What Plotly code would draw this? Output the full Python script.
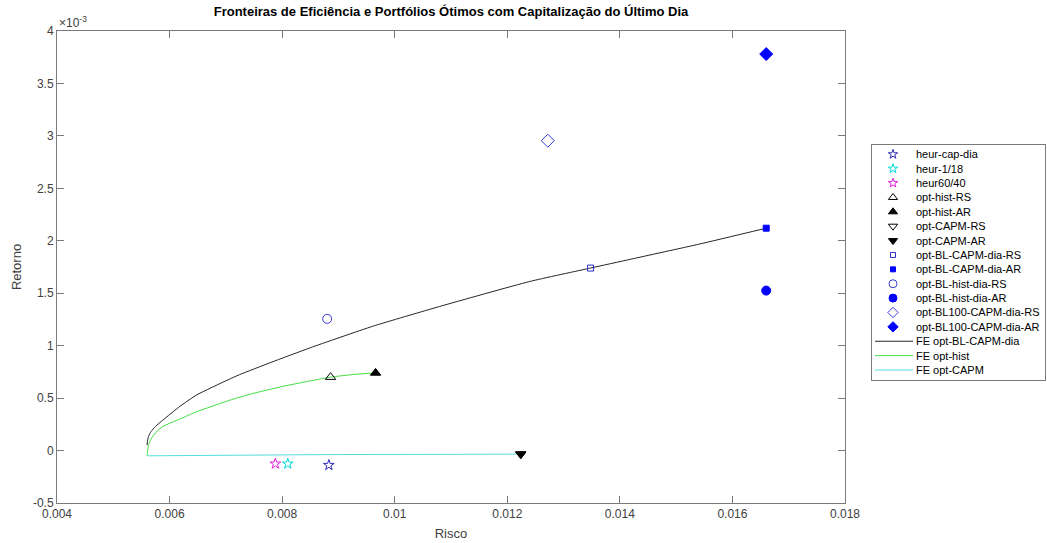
import plotly.graph_objects as go

# ---- data: risk (std) and return of each portfolio ----
risco_heur_cap_dia = [0.00883]
retorno_heur_cap_dia = [-0.139e-3]
risco_heur_1_18 = [0.00810]
retorno_heur_1_18 = [-0.126e-3]
risco_heur_60_40 = [0.00788]
retorno_heur_60_40 = [-0.126e-3]

risco_opt_hist_rs = [0.00886]
retorno_opt_hist_rs = [0.700e-3]
risco_opt_hist_ar = [0.00966]
retorno_opt_hist_ar = [0.740e-3]
risco_opt_capm_rs = [0.01224]
retorno_opt_capm_rs = [-0.034e-3]
risco_opt_capm_ar = [0.01224]
retorno_opt_capm_ar = [-0.034e-3]

risco_bl_capm_rs = [0.01348]
retorno_bl_capm_rs = [1.740e-3]
risco_bl_capm_ar = [0.01660]
retorno_bl_capm_ar = [2.120e-3]
risco_bl_hist_rs = [0.00880]
retorno_bl_hist_rs = [1.256e-3]
risco_bl_hist_ar = [0.01660]
retorno_bl_hist_ar = [1.525e-3]
risco_bl100_rs = [0.01272]
retorno_bl100_rs = [2.954e-3]
risco_bl100_ar = [0.01660]
retorno_bl100_ar = [3.780e-3]

# ---- efficient frontiers ----
fe_bl_risco = [0.00560, 0.00561, 0.00563, 0.00567, 0.00575, 0.00588, 0.00618, 0.00648,
               0.00704, 0.00724, 0.00780, 0.00850, 0.00961, 0.01080, 0.01240, 0.01348,
               0.01420, 0.01540, 0.01660]
fe_bl_retorno = [0.05e-3, 0.10e-3, 0.14e-3, 0.18e-3, 0.23e-3, 0.29e-3, 0.42e-3, 0.53e-3,
                 0.675e-3, 0.723e-3, 0.84e-3, 0.98e-3, 1.185e-3, 1.374e-3, 1.612e-3, 1.740e-3,
                 1.825e-3, 1.967e-3, 2.120e-3]

fe_hist_risco = [0.00560, 0.00561, 0.00563, 0.00567, 0.00575, 0.00588, 0.00618, 0.00648,
                 0.00707, 0.00741, 0.00804, 0.00886, 0.00930, 0.00966]
fe_hist_retorno = [-0.05e-3, 0.00e-3, 0.06e-3, 0.11e-3, 0.17e-3, 0.23e-3, 0.30e-3, 0.37e-3,
                   0.48e-3, 0.535e-3, 0.615e-3, 0.700e-3, 0.727e-3, 0.740e-3]

fe_capm_risco = [0.00560, 0.00700, 0.00900, 0.01100, 0.01224]
fe_capm_retorno = [-0.050e-3, -0.044e-3, -0.038e-3, -0.036e-3, -0.034e-3]

x_ticks = [0.004, 0.006, 0.008, 0.010, 0.012, 0.014, 0.016, 0.018]
x_ticklabels = ["0.004", "0.006", "0.008", "0.01", "0.012", "0.014", "0.016", "0.018"]
y_ticks = [-0.5e-3, 0, 0.5e-3, 1e-3, 1.5e-3, 2e-3, 2.5e-3, 3e-3, 3.5e-3, 4e-3]
y_ticklabels = ["-0.5", "0", "0.5", "1", "1.5", "2", "2.5", "3", "3.5", "4"]

BLUE = "#0000ff"
FONT = "Liberation Sans, Arial, sans-serif"
AXIS_GRAY = "#7a7a7a"
TEXT_GRAY = "#404040"
BLACK_LINE = "#262626"
GREEN_LINE = "#44dd44"
CYAN_LINE = "#55dede"

fig = go.Figure()

# frontiers
fig.add_trace(go.Scatter(x=fe_bl_risco, y=fe_bl_retorno, mode="lines",
                         line=dict(color=BLACK_LINE, width=1, shape="spline", smoothing=0.5)))
fig.add_trace(go.Scatter(x=fe_hist_risco, y=fe_hist_retorno, mode="lines",
                         line=dict(color=GREEN_LINE, width=1, shape="spline", smoothing=0.5)))
fig.add_trace(go.Scatter(x=fe_capm_risco, y=fe_capm_retorno, mode="lines",
                         line=dict(color=CYAN_LINE, width=1)))

# (label, x, y, symbol, color, size) for each portfolio marker
pontos = [
    ("heur-cap-dia", risco_heur_cap_dia, retorno_heur_cap_dia, "star-open", "#2a2ab8", 8),
    ("heur-1/18", risco_heur_1_18, retorno_heur_1_18, "star-open", "#00d8d8", 8),
    ("heur60/40", risco_heur_60_40, retorno_heur_60_40, "star-open", "#e020e0", 8),
    ("opt-hist-RS", risco_opt_hist_rs, retorno_opt_hist_rs, "triangle-up-open", "#000000", 9),
    ("opt-hist-AR", risco_opt_hist_ar, retorno_opt_hist_ar, "triangle-up", "#000000", 9),
    ("opt-CAPM-RS", risco_opt_capm_rs, retorno_opt_capm_rs, "triangle-down-open", "#000000", 9),
    ("opt-CAPM-AR", risco_opt_capm_ar, retorno_opt_capm_ar, "triangle-down", "#000000", 9),
    ("opt-BL-CAPM-dia-RS", risco_bl_capm_rs, retorno_bl_capm_rs, "square-open", "#2a2ad0", 6),
    ("opt-BL-CAPM-dia-AR", risco_bl_capm_ar, retorno_bl_capm_ar, "square", BLUE, 6),
    ("opt-BL-hist-dia-RS", risco_bl_hist_rs, retorno_bl_hist_rs, "circle-open", "#3a3ad8", 9),
    ("opt-BL-hist-dia-AR", risco_bl_hist_ar, retorno_bl_hist_ar, "circle", BLUE, 9),
    ("opt-BL100-CAPM-dia-RS", risco_bl100_rs, retorno_bl100_rs, "diamond-open", "#3a3ad8", 10),
    ("opt-BL100-CAPM-dia-AR", risco_bl100_ar, retorno_bl100_ar, "diamond", BLUE, 10),
]

for nome, xs, ys, sym, cor, tam in pontos:
    fig.add_trace(go.Scatter(x=xs, y=ys, mode="markers", name=nome,
                             marker=dict(symbol=sym, color=cor, size=tam,
                                         line=dict(color=cor, width=1))))

# ---- legend panel drawn on its own small axes (pixel-like units) ----
LEG_L, LEG_R, LEG_T, LEG_B = 872, 1045, 145, 380
linhas = [
    ("FE opt-BL-CAPM-dia", BLACK_LINE),
    ("FE opt-hist", GREEN_LINE),
    ("FE opt-CAPM", CYAN_LINE),
]
passo = 14.38
y0 = 9.3
TXT_X = 42
anots = []
for i, (nome, xs, ys, sym, cor, tam) in enumerate(pontos):
    yy = y0 + i * passo
    fig.add_trace(go.Scatter(x=[21], y=[yy], mode="markers", xaxis="x2", yaxis="y2",
                             marker=dict(symbol=sym, color=cor, size=round(tam * 0.85),
                                         line=dict(color=cor, width=1))))
    anots.append(dict(x=TXT_X, y=yy, xref="x2", yref="y2", text=nome, showarrow=False,
                      xanchor="left", yanchor="middle",
                      font=dict(family=FONT, size=11, color="#000000")))
for j, (nome, cor) in enumerate(linhas):
    yy = y0 + (len(pontos) + j) * passo
    fig.add_trace(go.Scatter(x=[3, 41], y=[yy, yy], mode="lines", xaxis="x2", yaxis="y2",
                             line=dict(color=cor, width=1)))
    anots.append(dict(x=TXT_X, y=yy, xref="x2", yref="y2", text=nome, showarrow=False,
                      xanchor="left", yanchor="middle",
                      font=dict(family=FONT, size=11, color="#000000")))

# exponent label of the y axis
anots.append(dict(x=0, y=1, xref="paper", yref="paper", xanchor="left", yanchor="bottom",
                  text="\u00d710<sup>-3</sup>", showarrow=False, yshift=-1,
                  font=dict(family=FONT, size=12, color=TEXT_GRAY)))

PLOT_W = 1047 - 57 - 2
main_right = (845 - 57) / PLOT_W

fig.update_layout(
    width=1047, height=543,
    margin=dict(l=57, r=2, t=31, b=40, autoexpand=False),
    paper_bgcolor="white", plot_bgcolor="white",
    showlegend=False,
    font=dict(family=FONT, size=12, color=TEXT_GRAY),
    title=dict(text="<b>Fronteiras de Eficiência e Portfólios Ótimos com Capitalização do Último Dia</b>",
               x=(57 + 845) / 2 / 1047, xanchor="center", y=1 - 11 / 543, yanchor="middle",
               font=dict(family=FONT, size=13, color="#000000")),
    xaxis=dict(domain=[0, main_right], range=[0.004, 0.018], automargin=False,
               tickvals=x_ticks, ticktext=x_ticklabels,
               ticks="inside", ticklen=7, tickcolor=AXIS_GRAY, tickwidth=1,
               showline=True, linecolor=AXIS_GRAY, linewidth=1, mirror="ticks",
               showgrid=False, zeroline=False,
               title=dict(text="Risco", standoff=8, font=dict(size=13, color=TEXT_GRAY))),
    yaxis=dict(domain=[0, 1], range=[-0.5e-3, 4e-3], automargin=False,
               tickvals=y_ticks, ticktext=y_ticklabels,
               ticks="inside", ticklen=7, tickcolor=AXIS_GRAY, tickwidth=1,
               showline=True, linecolor=AXIS_GRAY, linewidth=1, mirror="ticks",
               showgrid=False, zeroline=False,
               title=dict(text="Retorno", standoff=8, font=dict(size=13, color=TEXT_GRAY))),
    xaxis2=dict(domain=[(LEG_L - 57) / PLOT_W, (LEG_R - 57) / PLOT_W], range=[0, LEG_R - LEG_L],
                anchor="y2", automargin=False, showticklabels=False, ticks="",
                showgrid=False, zeroline=False,
                showline=True, linecolor=AXIS_GRAY, linewidth=1, mirror=True, fixedrange=True),
    yaxis2=dict(domain=[(503 - LEG_B) / 472, (503 - LEG_T) / 472], range=[LEG_B - LEG_T, 0],
                anchor="x2", automargin=False, showticklabels=False, ticks="",
                showgrid=False, zeroline=False,
                showline=True, linecolor=AXIS_GRAY, linewidth=1, mirror=True, fixedrange=True),
    annotations=anots,
)

fig.write_html("out.html")
